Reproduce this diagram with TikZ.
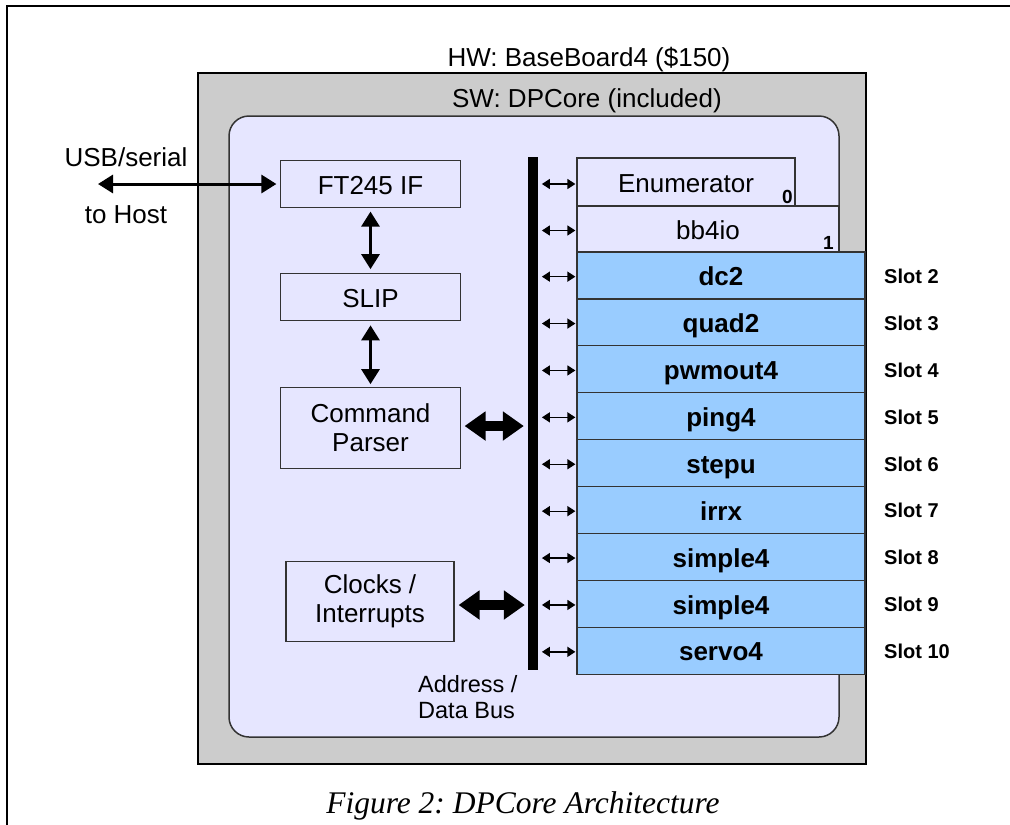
\documentclass[tikz,border=0pt]{standalone}
\usepackage{fontspec}
\setmainfont{Liberation Sans}
\newfontfamily\capfont{Liberation Serif}
\usetikzlibrary{arrows.meta}
\frenchspacing
\definecolor{grayfill}{HTML}{CCCCCC}
\definecolor{lavfill}{HTML}{E6E6FF}
\definecolor{slotblue}{HTML}{99CCFF}
\definecolor{edgecol}{HTML}{333333}
\tikzset{
  mainfont/.style={font=\fontsize{26}{29}\selectfont},
  boxstyle/.style={draw=edgecol, line width=1.2pt, fill=lavfill, inner sep=0pt, align=center, mainfont},
  onerow/.style={text height=20pt, text depth=0pt},
  slotbox/.style={draw=edgecol, line width=1.2pt, fill=slotblue, inner sep=0pt, minimum width=288pt, minimum height=46.9pt, text height=20.5pt, text depth=0pt, font=\bfseries\fontsize{26}{29}\selectfont},
  slotlabel/.style={anchor=west, inner sep=0pt, text height=16pt, text depth=0pt, font=\bfseries\fontsize{20}{24}\selectfont},
  idx/.style={anchor=base east, inner sep=0pt, font=\bfseries\fontsize{19}{22}\selectfont},
  thinarr/.style={line width=3pt, {Triangle[length=15pt,width=18pt]}-{Triangle[length=15pt,width=18pt]}},
  fatarr/.style={line width=10pt, {Triangle[length=21pt,width=28pt]}-{Triangle[length=21pt,width=28pt]}},
  smallarr/.style={line width=1.3pt, {Triangle[length=8pt,width=10pt]}-{Triangle[length=8pt,width=10pt]}},
  txt/.style={inner sep=0pt, mainfont}
}
\begin{document}
\begin{tikzpicture}[x=1pt,y=-1pt]
\useasboundingbox (0,0) rectangle (1010,825);
% page frame
\draw[line width=2pt] (7,825) -- (7,6) -- (1010,6);
% hardware and software frames
\draw[fill=grayfill, draw=black, line width=2pt] (198,73) rectangle (866,764);
\draw[fill=lavfill, draw=edgecol, line width=1.5pt, rounded corners=20pt] (229,116) rectangle (839,737);
\node[txt, anchor=base] (hw) at (589,66) {HW: BaseBoard4 (\$150)};
\node[txt, anchor=base] (sw) at (587,107) {SW: DPCore (included)};
% left blocks
\node[boxstyle, onerow, minimum width=180pt, minimum height=47pt] (ft) at (370.5,184) {FT245 IF};
\node[boxstyle, onerow, minimum width=180pt, minimum height=47.5pt] (slip) at (370.5,297) {SLIP};
\node[boxstyle, minimum width=180pt, minimum height=80.5pt] (cp) at (370.5,428) {Command\\Parser};
\node[boxstyle, minimum width=168pt, minimum height=79.5pt] (clk) at (370,601.4) {Clocks /\\Interrupts};
% host link
\node[txt, anchor=base] (usb) at (126,166) {USB/serial};
\node[txt, anchor=base] (host) at (126,223) {to Host};
\coordinate (hostend) at (98,184);
\draw[thinarr, shorten >=3.5pt] (hostend) -- (ft.west);
\draw[thinarr, shorten <=3.5pt, shorten >=3.5pt] (ft.south) -- (slip.north);
\draw[thinarr, shorten <=4pt, shorten >=3pt] (slip.south) -- (cp.north);
% bus
\node[fill=black, inner sep=0pt, minimum width=10pt, minimum height=513pt] (bus) at (533,413.5) {};
\draw[fatarr, shorten <=3.5pt, shorten >=4pt] ([yshift=2pt]cp.east) -- ([yshift=2pt]cp.east -| bus.west);
\draw[fatarr, shorten <=4pt, shorten >=3pt] ([yshift=-3.6pt]clk.east) -- ([yshift=-3.6pt]clk.east -| bus.west);
\node[txt, anchor=north west, align=left, font=\fontsize{23.5}{26}\selectfont] (addr) at (418,675.5) {Address /\\Data Bus};
% enumerator and bb4io
\node[boxstyle, onerow, minimum width=218pt, minimum height=48pt] (enum) at (686,182) {Enumerator};
\node[idx] (i0) at (793,203) {0};
\node[boxstyle, onerow, minimum width=262pt, minimum height=46pt] (bb) at (708,229) {bb4io};
\node[idx] (i1) at (834,249) {1};
\draw[smallarr, shorten <=3.7pt, shorten >=1pt] ([yshift=-2pt]bus.east |- enum.west) -- ([yshift=-2pt]enum.west);
\draw[smallarr, shorten <=3.7pt, shorten >=1pt] ([yshift=-1.5pt]bus.east |- bb.west) -- ([yshift=-1.5pt]bb.west);
% slots
\foreach \name/\s [count=\i from 0] in {dc2/2, quad2/3, pwmout4/4, ping4/5, stepu/6, irrx/7, simple4/8, simple4/9, servo4/10}{
  \node[slotbox] (r\s) at (721, 252+23.45+46.9*\i) {\name};
  \node[slotlabel] (s\s) at (884, 252+23.45+46.9*\i) {Slot \s};
  \draw[smallarr, shorten <=3.7pt, shorten >=1pt] ([yshift=-1.2pt]bus.east |- r\s.west) -- ([yshift=-1.2pt]r\s.west);
}
% caption
\node[inner sep=0pt, anchor=base, font=\capfont\itshape\fontsize{31.5}{35}\selectfont] (cap) at (523,813) {Figure 2: DPCore Architecture};
\end{tikzpicture}
\end{document}
